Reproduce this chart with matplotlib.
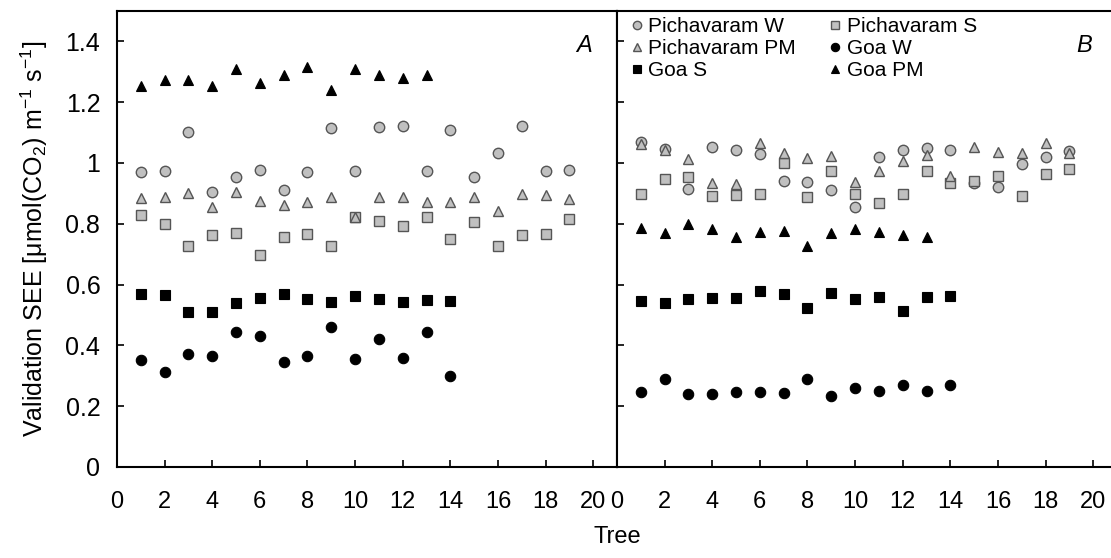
import numpy as np
import matplotlib
matplotlib.use("Agg")
import matplotlib.pyplot as plt

plt.rcParams['font.family'] = ['Liberation Sans', 'DejaVu Sans']
plt.rcParams['mathtext.fontset'] = 'custom'
plt.rcParams['mathtext.rm'] = 'Liberation Sans'
plt.rcParams['mathtext.it'] = 'Liberation Sans:italic'

# Panel A
a_pich_w = [0.969, 0.974, 1.103, 0.904, 0.953, 0.978, 0.911, 0.970, 1.114, 0.975,
            1.119, 1.123, 0.975, 1.110, 0.955, 1.032, 1.123, 0.975, 0.976]
a_pich_s = [0.829, 0.799, 0.727, 0.764, 0.769, 0.697, 0.755, 0.766, 0.727, 0.822,
            0.809, 0.794, 0.821, 0.751, 0.807, 0.727, 0.763, 0.766, 0.817]
a_pich_pm = [0.886, 0.889, 0.900, 0.854, 0.904, 0.875, 0.862, 0.873, 0.889, 0.823,
             0.889, 0.889, 0.871, 0.873, 0.889, 0.842, 0.898, 0.894, 0.882]
a_goa_w = [0.351, 0.311, 0.372, 0.365, 0.443, 0.432, 0.345, 0.365, 0.462, 0.354,
           0.422, 0.358, 0.443, 0.300]
a_goa_s = [0.568, 0.566, 0.511, 0.510, 0.538, 0.556, 0.568, 0.554, 0.544, 0.561,
           0.554, 0.542, 0.550, 0.546]
a_goa_pm = [1.253, 1.272, 1.272, 1.253, 1.308, 1.262, 1.289, 1.317, 1.240, 1.308,
            1.289, 1.281, 1.289]

# Panel B
b_pich_w = [1.070, 1.046, 0.914, 1.054, 1.043, 1.029, 0.942, 0.938, 0.911, 0.856,
            1.019, 1.043, 1.048, 1.043, 0.935, 0.922, 0.996, 1.019, 1.040]
b_pich_s = [0.898, 0.947, 0.955, 0.892, 0.895, 0.898, 0.999, 0.889, 0.975, 0.898,
            0.869, 0.898, 0.974, 0.935, 0.942, 0.957, 0.891, 0.963, 0.979]
b_pich_pm = [1.061, 1.043, 1.012, 0.935, 0.931, 1.065, 1.032, 1.015, 1.023, 0.938,
             0.974, 1.005, 1.026, 0.958, 1.052, 1.035, 1.032, 1.065, 1.032]
b_goa_w = [0.248, 0.291, 0.240, 0.240, 0.248, 0.248, 0.242, 0.291, 0.235, 0.261,
           0.250, 0.269, 0.250, 0.269]
b_goa_s = [0.547, 0.541, 0.553, 0.556, 0.557, 0.580, 0.568, 0.522, 0.571, 0.552,
           0.560, 0.514, 0.560, 0.564]
b_goa_pm = [0.787, 0.769, 0.798, 0.783, 0.755, 0.772, 0.776, 0.728, 0.769, 0.783,
            0.772, 0.763, 0.757]

labels = ['Pichavaram W', 'Pichavaram S', 'Pichavaram PM', 'Goa W', 'Goa S', 'Goa PM']
gray = dict(mfc='#c0c0c0', mec='#555555', mew=1.0)
black = dict(mfc='black', mec='black', mew=0.8)
styles = [('o', gray), ('s', gray), ('^', gray), ('o', black), ('s', black), ('^', black)]

fig = plt.figure(figsize=(11.11, 5.58), dpi=100)
ax_a = fig.add_axes([117 / 1111, 91 / 558, 500 / 1111, 456 / 558])
ax_b = fig.add_axes([617 / 1111, 91 / 558, 500 / 1111, 456 / 558])


def draw_panel(ax, series, letter):
    handles = []
    for vals, (m, st) in zip(series, styles):
        x = np.arange(1, len(vals) + 1)
        h, = ax.plot(x, vals, linestyle='none', marker=m, ms=7.5, **st)
        handles.append(h)
    ax.set_xlim(0, 21)
    ax.set_ylim(0, 1.5)
    ax.set_xticks(np.arange(0, 21, 2))
    ax.set_yticks(np.arange(0, 1.41, 0.2))
    ax.tick_params(direction='in', length=5, width=1.2, top=False, right=False)
    ax.tick_params(axis='x', pad=17, labelsize=17)
    ax.tick_params(axis='y', pad=12, labelsize=18)
    for sp in ax.spines.values():
        sp.set_linewidth(1.5)
    ax.text(0.95, 0.925, letter, transform=ax.transAxes, fontsize=17,
            style='italic', ha='right', va='center')
    return handles


draw_panel(ax_a, [a_pich_w, a_pich_s, a_pich_pm, a_goa_w, a_goa_s, a_goa_pm], 'A')
hb = draw_panel(ax_b, [b_pich_w, b_pich_s, b_pich_pm, b_goa_w, b_goa_s, b_goa_pm], 'B')

ax_a.set_yticklabels(['0', '0.2', '0.4', '0.6', '0.8', '1', '1.2', '1.4'])
ax_b.set_yticklabels([])
ax_a.set_ylabel('Validation SEE [μmol(CO$_2$) m$^{-1}$ s$^{-1}$]', fontsize=18, labelpad=11)
fig.text(617 / 1111, 1 - 537 / 558, 'Tree', ha='center', va='center', fontsize=17)

# legend filled row by row, as in the original
order = [0, 2, 4, 1, 3, 5]
leg = ax_b.legend([hb[i] for i in order], [labels[i] for i in order], ncol=2,
                  loc='upper left', frameon=False,
                  fontsize=15, markerscale=0.8, handlelength=0.6,
                  handletextpad=0.25, columnspacing=1.6, labelspacing=0.15,
                  borderaxespad=0.0, bbox_to_anchor=(0.01, 1.005))

fig.savefig('out.png', dpi=100)
